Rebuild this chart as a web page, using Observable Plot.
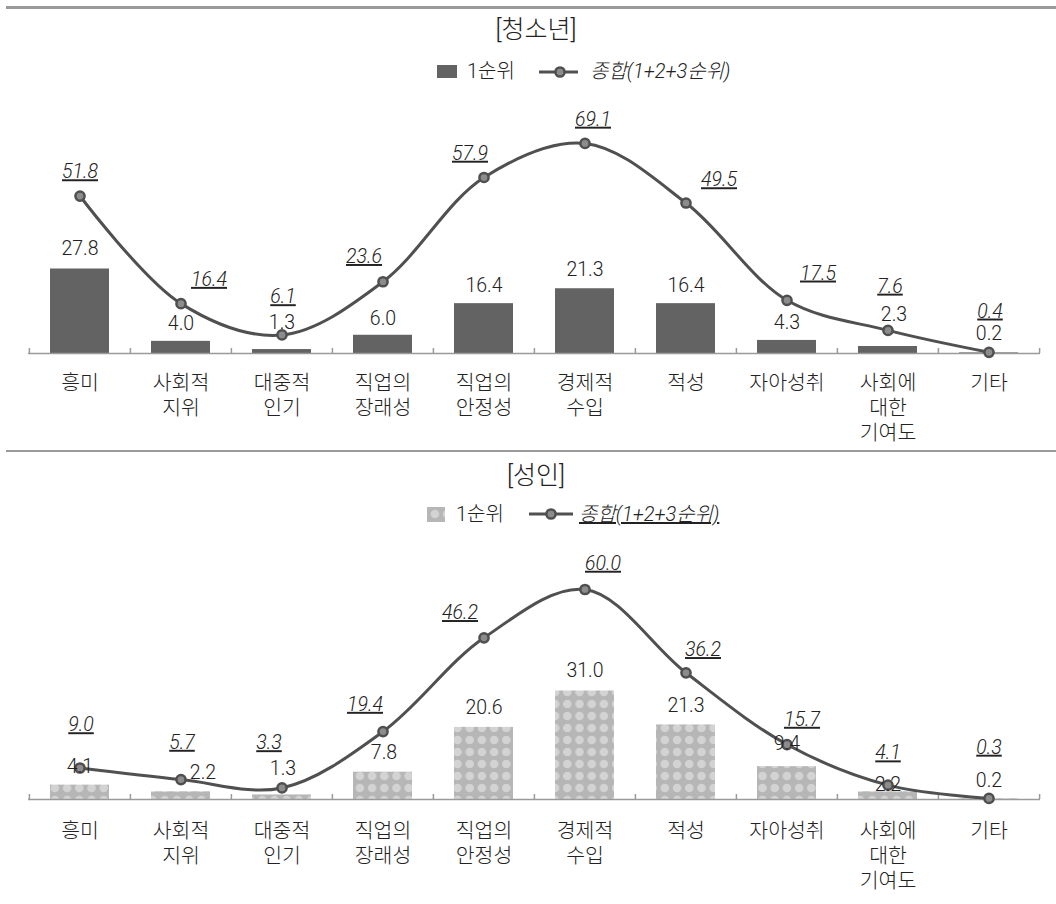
<!DOCTYPE html>
<html><head><meta charset="utf-8">
<script src="https://cdn.jsdelivr.net/npm/d3@7"></script>
<script src="https://cdn.jsdelivr.net/npm/@observablehq/plot@0.6"></script>
<style>
body{margin:0;background:#fff;font-family:Roboto,"Noto Sans CJK KR",sans-serif;color:#222;}
#page{position:relative;width:1056px;height:904px;overflow:hidden;background:#fff;}
.abs{position:absolute;white-space:nowrap;}
.title{left:0;width:1072px;text-align:center;font-size:25px;line-height:30px;font-weight:300;color:#222;}
.leg{font-size:20px;line-height:24px;font-weight:300;color:#222;}
.rule1{left:6px;right:0;top:6px;height:3px;background:#9a9a9a;}
.rule2{left:6px;right:0;top:450px;height:1.5px;background:#9a9a9a;}
g[font-style="italic"] text{ text-decoration: underline; }
</style></head>
<body><div id="page"></div>
<script>
// ---- data ----
const categories = ["흥미","사회적\n지위","대중적\n인기","직업의\n장래성","직업의\n안정성","경제적\n수입","적성","자아성취","사회에\n대한\n기여도","기타"];
const seriesNames = ["1순위","종합(1+2+3순위)"];
const panelTitles = ["[청소년]","[성인]"];
const youthFirst = [27.8,4.0,1.3,6.0,16.4,21.3,16.4,4.3,2.3,0.2];
const youthTotal = [51.8,16.4,6.1,23.6,57.9,69.1,49.5,17.5,7.6,0.4];
const adultFirst = [4.1,2.2,1.3,7.8,20.6,31.0,21.3,9.4,2.2,0.2];
const adultTotal = [9.0,5.7,3.3,19.4,46.2,60.0,36.2,15.7,4.1,0.3];

// ---- label nudges (px) ----
const youthFirstDx = [0,0,0,0,0,0,0,0,6,0];
const youthFirstDy = [-20,-18,-27,-17,-18,-19,-18,-18,-32,-19];
const youthTotalDx = [0,28,1,-19,-14,8,33,31,2,1];
const youthTotalDy = [-24,-24,-38,-25,-24,-24,-23,-27,-44,-41];
const adultFirstDx = [0,22,1,1,0,0,0,0,0,0];
const adultFirstDy = [-18,-19,-26,-19,-20,-20,-19,-23,-7,-18];
const adultTotalDx = [1,1,-13,-18,-24,18,17,15,0,0];
const adultTotalDy = [-43,-37,-45,-27,-25,-26,-23,-25,-32,-51];

const W = 1056, ML = 28, MR = 16;
const FONT = 'Roboto,"Noto Sans CJK KR",sans-serif';
const fmt = d3.format(".1f");
const page = document.getElementById("page");

function addDiv(cls, text, style) {
  const d = document.createElement("div");
  d.className = "abs " + cls;
  d.textContent = text;
  Object.assign(d.style, style || {});
  page.appendChild(d);
  return d;
}
function patternDefs(sel) {
  const p = sel.append("defs").append("pattern")
    .attr("id", "dots").attr("patternUnits", "userSpaceOnUse")
    .attr("width", 12.2).attr("height", 12);
  p.append("rect").attr("width", 12.2).attr("height", 12).attr("fill", "#b6b6b6");
  p.append("circle").attr("cx", 6.1).attr("cy", 6).attr("r", 4.3).attr("fill", "#d3d3d3");
}

function panel(opt) {
  const {first, total, fDx, fDy, tDx, tDy, yMax, height, marginTop, marginBottom, barFill, top, pattern, labelDy} = opt;
  const data = categories.map((c, i) => ({c, first: first[i], total: total[i]}));
  const step = (W - ML - MR) / categories.length;
  const pxPerUnit = (height - marginTop - marginBottom) / yMax;
  const tickLen = 5 / pxPerUnit;
  const marks = [
    Plot.barY(data, {x: "c", y: "first", fill: barFill, insetLeft: 21, insetRight: 21}),
    Plot.ruleY([0], {stroke: "#9a9a9a", strokeWidth: 1.5}),
    Plot.ruleX(categories, {x: d => d, y1: 0, y2: tickLen, dx: -step / 2, stroke: "#9a9a9a", strokeWidth: 1.5}),
    Plot.ruleX([categories[categories.length - 1]], {x: d => d, y1: 0, y2: tickLen, dx: step / 2, stroke: "#9a9a9a", strokeWidth: 1.5}),
    Plot.line(data, {x: "c", y: "total", curve: "catmull-rom", stroke: "#505050", strokeWidth: 3}),
    Plot.dot(data, {x: "c", y: "total", r: 4.6, fill: "#8c8c8c", stroke: "#4f4f4f", strokeWidth: 2.5}),
    ...data.map((d, i) => Plot.text([d], {x: "c", y: "first", text: e => fmt(e.first), dx: fDx[i], dy: fDy[i], fontSize: 19.5, fontWeight: 300, fill: "#222"})),
    ...data.map((d, i) => Plot.text([d], {x: "c", y: "total", text: e => fmt(e.total), dx: tDx[i], dy: tDy[i], fontSize: 19.5, fontWeight: 300, fill: "#222", fontStyle: "italic"})),
    Plot.text(data, {x: "c", y: 0, text: "c", dy: labelDy, lineAnchor: "top", lineHeight: 1.24, fontSize: 20.5, fontWeight: 300, fill: "#222"})
  ];
  const svg = Plot.plot({
    width: W, height, marginLeft: ML, marginRight: MR, marginTop, marginBottom,
    x: {type: "band", domain: categories, padding: 0, axis: null},
    y: {domain: [0, yMax], axis: null},
    style: {fontFamily: FONT, background: "transparent", overflow: "visible"},
    marks
  });
  if (pattern) patternDefs(d3.select(svg));
  svg.style.position = "absolute";
  svg.style.left = "0px";
  svg.style.top = top + "px";
  page.appendChild(svg);
}

function legendSwatch(left, top, w, h, fill, pattern) {
  const s = d3.create("svg").attr("width", w).attr("height", h)
    .style("position", "absolute").style("left", left + "px").style("top", top + "px");
  if (pattern) {
    const p = s.append("defs").append("pattern").attr("id", "ldots").attr("patternUnits", "userSpaceOnUse")
      .attr("width", 12).attr("height", 12).attr("x", 2).attr("y", 1);
    p.append("rect").attr("width", 12).attr("height", 12).attr("fill", "#b6b6b6");
    p.append("circle").attr("cx", 6).attr("cy", 6).attr("r", 4.3).attr("fill", "#d3d3d3");
    s.append("rect").attr("width", w).attr("height", h).attr("fill", "url(#ldots)");
  } else {
    s.append("rect").attr("width", w).attr("height", h).attr("fill", fill);
  }
  page.appendChild(s.node());
}
function legendLine(left, cy, w, cx) {
  const s = d3.create("svg").attr("width", w).attr("height", 16)
    .style("position", "absolute").style("left", left + "px").style("top", (cy - 8) + "px");
  s.append("line").attr("x1", 0).attr("x2", w).attr("y1", 8).attr("y2", 8).attr("stroke", "#505050").attr("stroke-width", 3);
  s.append("circle").attr("cx", cx).attr("cy", 8).attr("r", 4.6).attr("fill", "#8c8c8c").attr("stroke", "#4f4f4f").attr("stroke-width", 2.5);
  page.appendChild(s.node());
}

// rules
addDiv("rule1", "");
addDiv("rule2", "");

// panel 1
addDiv("title", panelTitles[0], {top: "15px"});
legendSwatch(437, 65, 20, 13, "#636363", false);
addDiv("leg", seriesNames[0], {left: "467px", top: "59px"});
legendLine(539, 71.5, 39, 21);
addDiv("leg", seriesNames[1], {left: "590px", top: "59px", fontStyle: "italic"});
panel({first: youthFirst, total: youthTotal, fDx: youthFirstDx, fDy: youthFirstDy, tDx: youthTotalDx, tDy: youthTotalDy,
  yMax: 80, height: 360, marginTop: 19.8, marginBottom: 97, barFill: "#636363", top: 90, pattern: false, labelDy: 18});

// panel 2
addDiv("title", panelTitles[1], {top: "461px"});
legendSwatch(427, 507, 18, 15, null, true);
addDiv("leg", seriesNames[0], {left: "456px", top: "502px"});
legendLine(529, 514, 44, 22);
addDiv("leg", seriesNames[1], {left: "579px", top: "502px", fontStyle: "italic", textDecoration: "underline"});
panel({first: adultFirst, total: adultTotal, fDx: adultFirstDx, fDy: adultFirstDy, tDx: adultTotalDx, tDy: adultTotalDy,
  yMax: 70, height: 370, marginTop: 24, marginBottom: 101, barFill: "url(#dots)", top: 530, pattern: true, labelDy: 20});
</script>
</body></html>
